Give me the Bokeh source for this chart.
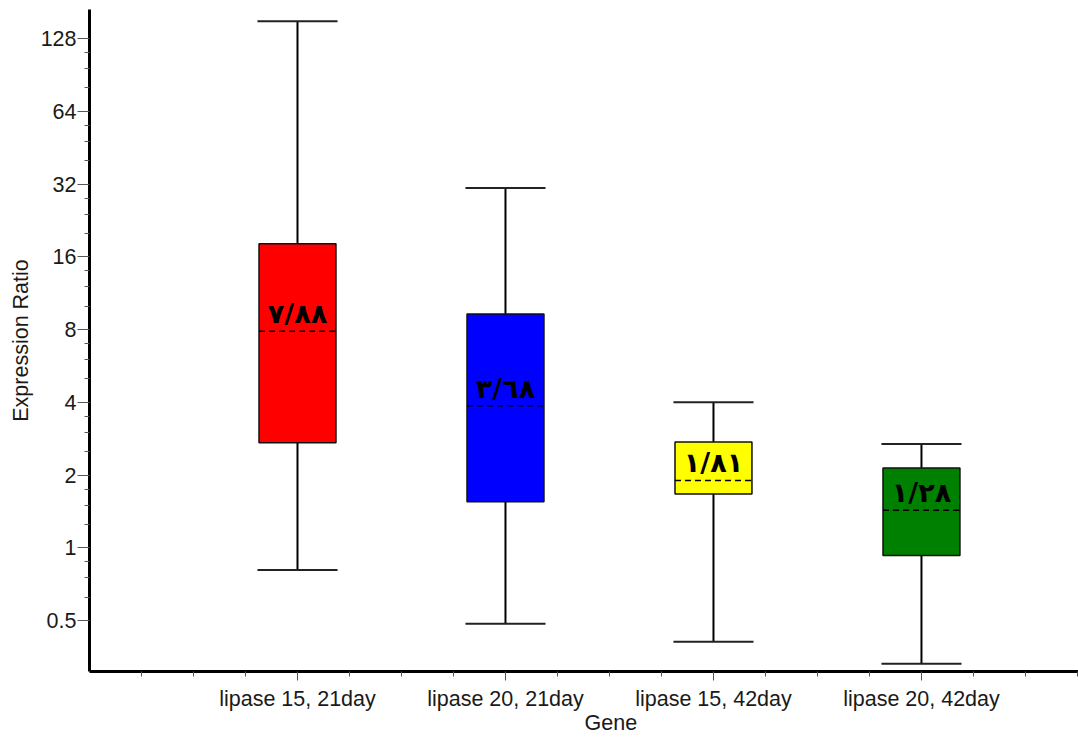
from bokeh.plotting import figure
from bokeh.models import ColumnDataSource, FixedTicker, Range1d
from bokeh.core.properties import value
from bokeh.embed import file_html
from bokeh.resources import INLINE

# ---- data ----
genes = ["lipase 15, 21day", "lipase 20, 21day", "lipase 15, 42day", "lipase 20, 42day"]
positions = [1, 2, 3, 4]
whisker_low = [0.81, 0.485, 0.409, 0.331]
q1 = [2.72, 1.55, 1.67, 0.93]
median = [7.88, 3.87, 1.90, 1.43]
q3 = [18.1, 9.28, 2.74, 2.14]
whisker_high = [151.0, 30.8, 4.0, 2.69]
colors = ["#FF0000", "#0000FF", "#FFFF00", "#008000"]
median_labels = ["٧/٨٨", "٣/٦٨", "١/٨١", "١/٢٨"]
y_ticks = [0.5, 1, 2, 4, 8, 16, 32, 64, 128]

BOX_W = 0.37
CAP_W = 0.385
FONT = "Liberation Sans"
FSIZE = "21.5px"

src = ColumnDataSource(dict(
    x=positions, lo=whisker_low, q1=q1, med=median, q3=q3, hi=whisker_high,
    color=colors, label=median_labels,
    bl=[x - BOX_W / 2 for x in positions], br=[x + BOX_W / 2 for x in positions],
    cl=[x - CAP_W / 2 for x in positions], cr=[x + CAP_W / 2 for x in positions],
))

p = figure(width=1078, height=738,
           x_range=Range1d(0, 4.755), y_range=Range1d(0.3077, 168.8),
           y_axis_type="log", output_backend="svg", toolbar_location=None,
           min_border_left=89, min_border_right=0, min_border_top=9, min_border_bottom=67,
           title=None)

p.xgrid.visible = False
p.ygrid.visible = False
p.outline_line_color = None
p.background_fill_color = "white"
p.border_fill_color = "white"

# whiskers
p.segment(x0="x", y0="lo", x1="x", y1="q1", source=src, line_color="black", line_width=2)
p.segment(x0="x", y0="q3", x1="x", y1="hi", source=src, line_color="black", line_width=2)
p.segment(x0="cl", y0="lo", x1="cr", y1="lo", source=src, line_color="#222222", line_width=2)
p.segment(x0="cl", y0="hi", x1="cr", y1="hi", source=src, line_color="#222222", line_width=2)

# boxes
p.vbar(x="x", width=BOX_W, bottom="q1", top="q3", source=src,
       fill_color="color", line_color="#111111", line_width=1.5)

# medians
p.segment(x0="bl", y0="med", x1="br", y1="med", source=src,
          line_color="black", line_width=1.5, line_dash="6 4")

# median labels
p.text(x="x", y="med", text="label", source=src, text_align="center",
       text_baseline="bottom", y_offset=-2, text_font=value("DejaVu Sans"),
       text_font_style="bold", text_font_size="27px", text_color="black")

# x axis
xa = p.xaxis[0]
minor_x = [i * 0.25 for i in range(1, 20) if i % 4 != 0]
xa.ticker = FixedTicker(ticks=positions, minor_ticks=minor_x)
xa.major_label_overrides = {x: g for x, g in zip(positions, genes)}
xa.axis_line_width = 3
xa.axis_line_color = "black"
xa.major_tick_line_color = "#555555"
xa.minor_tick_line_color = "#555555"
xa.major_tick_in = 0
xa.minor_tick_in = 0
xa.major_tick_out = 9
xa.minor_tick_out = 5
xa.major_label_standoff = 6
xa.major_label_text_font = FONT
xa.major_label_text_font_size = FSIZE
xa.major_label_text_color = "#1a1a1a"
xa.axis_label = "\u00a0" * 9 + "Gene"
xa.axis_label_text_font = FONT
xa.axis_label_text_font_size = FSIZE
xa.axis_label_text_font_style = "normal"
xa.axis_label_text_color = "#1a1a1a"
xa.axis_label_standoff = -3

# y axis
ya = p.yaxis[0]
minor_y = [m * f for m in y_ticks[:-1] for f in (1.25, 1.5, 1.75)]
ya.ticker = FixedTicker(ticks=y_ticks, minor_ticks=minor_y)
ya.major_label_overrides = {t: (str(t) if t < 1 else str(int(t))) for t in y_ticks}
ya.axis_line_width = 3
ya.axis_line_color = "black"
ya.major_tick_line_color = "#555555"
ya.minor_tick_line_color = "#555555"
ya.major_tick_in = 0
ya.minor_tick_in = 0
ya.major_tick_out = 12
ya.minor_tick_out = 5
ya.major_label_standoff = 1
ya.major_label_text_font = FONT
ya.major_label_text_font_size = FSIZE
ya.major_label_text_color = "#1a1a1a"
ya.axis_label = "Expression Ratio"
ya.axis_label_text_font = FONT
ya.axis_label_text_font_size = FSIZE
ya.axis_label_text_font_style = "normal"
ya.axis_label_text_color = "#1a1a1a"
ya.axis_label_standoff = 5

open("out.html", "w").write(file_html(p, INLINE))
